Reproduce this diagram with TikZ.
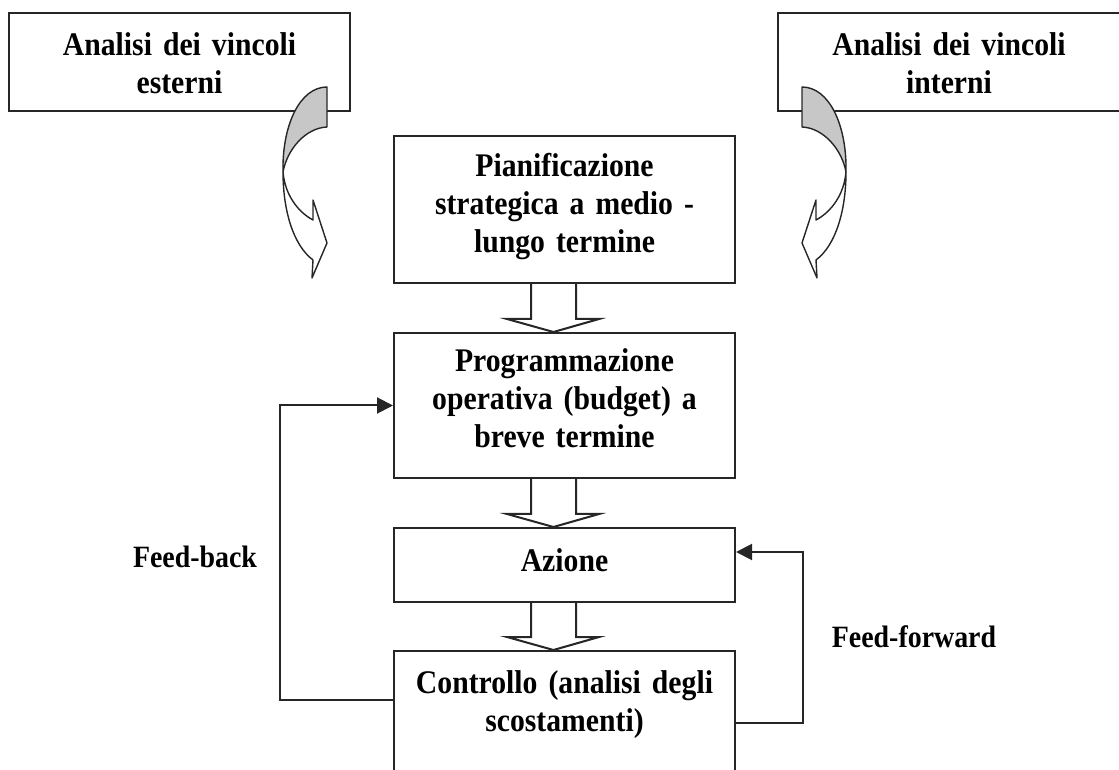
\documentclass[tikz,border=0pt]{standalone}
\usepackage{fontspec}
\setmainfont{Liberation Serif}[FakeStretch=0.9]
\usetikzlibrary{arrows.meta}

\tikzset{
  blk/.style={draw=black!85, line width=2pt, inner sep=0pt, minimum width=341pt,
    text width=331pt, align=center, font=\fontsize{33}{38}\selectfont\bfseries},
  lbl/.style={font=\fontsize{31}{36}\selectfont\bfseries, inner sep=0pt, anchor=base},
  hollow/.style={draw=black!85, line width=2pt, line join=miter},
  fbline/.style={draw=black!85, line width=2pt, -{Triangle[length=16pt,width=16pt]}},
  curvedarr/.style={draw=black!85, line width=1.4pt, fill=white, line join=round},
}

\begin{document}
\begin{tikzpicture}[x=1pt,y=1pt]
\useasboundingbox (0,0) rectangle (1119,769);
\clip (0,0) rectangle (1119,769);
% objects at depth 100:
\node[blk, minimum height=98pt, text height=0pt, text depth=13pt] (ext) at (179.5,707) {Analisi dei vincoli\\esterni};
\node[blk, minimum width=342pt, minimum height=98pt, text height=0pt, text depth=13pt] (int) at (949,707) {Analisi dei vincoli\\interni};
\node[blk, minimum height=147pt, text height=0pt, text depth=65pt] (pian) at (564.5,559.5) {Pianificazione\\strategica a medio -\\lungo termine};
\node[blk, minimum height=145pt, text height=0pt, text depth=67pt] (prog) at (564.5,363.5) {Programmazione\\operativa (budget) a\\breve termine};
\node[blk, minimum height=74pt, text height=14pt, text depth=0pt] (az) at (564.5,204) {Azione};
\node[blk, minimum height=139pt, text height=0pt, text depth=55pt] (contr) at (564.5,48.5) {Controllo (analisi degli\\scostamenti)};
\node[lbl] (fb) at (195,202) {Feed-back};
\node[lbl] (ff) at (914,122) {Feed-forward};
% objects at depth 75:
\foreach \a/\b in {pian/prog, prog/az, az/contr}
  \draw[hollow] ([xshift=-33.5pt]\a.south) -- ([xshift=-33.5pt,yshift=13pt]\b.north)
    -- ([xshift=-57.5pt,yshift=13pt]\b.north) -- ([xshift=-11pt]\b.north)
    -- ([xshift=34.5pt,yshift=13pt]\b.north) -- ([xshift=11.5pt,yshift=13pt]\b.north)
    -- ([xshift=11.5pt]\a.south);
\draw[fbline] ([yshift=20.5pt]contr.west) -- ++(-113,0) |- (prog.west);
\draw[fbline] ([yshift=-2.5pt]contr.east) -- ++(67,0) |- ([yshift=13pt]az.east);
% objects at depth 50:
\path[curvedarr] (283,597) .. controls (283,559) and (293,524) .. (313,509) -- (312,491) -- (327,526)
  -- (313,569) -- (313,549) .. controls (298,557) and (285,574) .. cycle;
\path[curvedarr, fill=black!22] (327,682) .. controls (300,682) and (282,644) .. (283,597)
  .. controls (287,619) and (305,641) .. (327,642) -- cycle;
\begin{scope}[xshift=1129pt, xscale=-1]
\path[curvedarr] (283,597) .. controls (283,559) and (293,524) .. (313,509) -- (312,491) -- (327,526)
  -- (313,569) -- (313,549) .. controls (298,557) and (285,574) .. cycle;
\path[curvedarr, fill=black!22] (327,682) .. controls (300,682) and (282,644) .. (283,597)
  .. controls (287,619) and (305,641) .. (327,642) -- cycle;
\end{scope}
\end{tikzpicture}
\end{document}
